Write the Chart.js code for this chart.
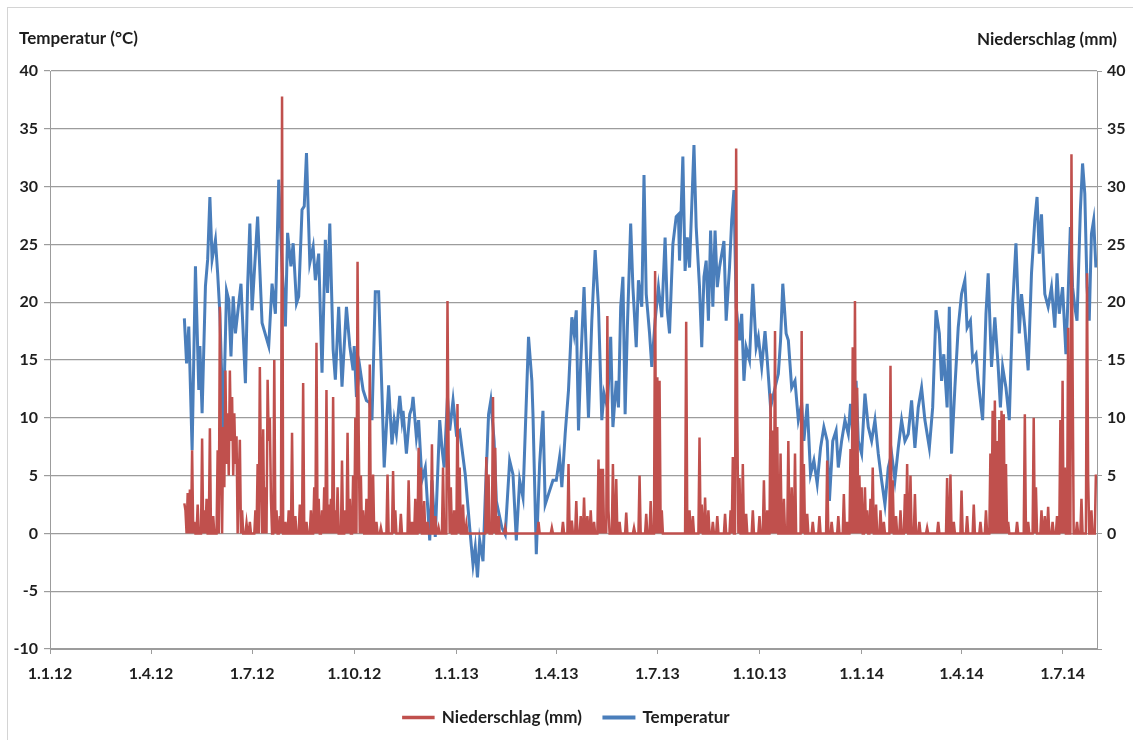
<!DOCTYPE html>
<html lang="de">
<head>
<meta charset="utf-8">
<title>Temperatur und Niederschlag</title>
<script src="https://cdn.jsdelivr.net/npm/chart.js@4.4.1/dist/chart.umd.min.js"></script>
<style>
  html, body { margin: 0; padding: 0; background: #fff; }
  #rahmen { position: absolute; left: 7px; top: 7px; width: 1130px; height: 740px; border-left: 1px solid #d4d4d4; border-top: 1px solid #d4d4d4; }
  #wrap { position: absolute; left: 0; top: 0; width: 1133px; height: 740px; }
</style>
</head>
<body>
<div id="rahmen"></div>
<div id="wrap"><canvas id="chart"></canvas></div>
<script>
// Tage gezaehlt ab 1.1.12 (Tag 0)
const quartalTage = [0, 91, 182, 274, 366, 456, 547, 639, 731, 821, 912];
const quartalLabels = ['1.1.12', '1.4.12', '1.7.12', '1.10.12', '1.1.13', '1.4.13', '1.7.13', '1.10.13', '1.1.14', '1.4.14', '1.7.14'];
const tagStart = 121;   // 1.5.12
const tagEnde = 942;    // 31.7.14

const tempTag = [
  121,123,125,128,131,134,135,137,140,142,144,146,149,151,153,156,159,161,163,165,167,172,176,178,180,182,187,191,197,200,
  203,206,209,212,214,217,219,222,224,227,229,231,234,237,239,242,245,248,250,252,255,257,260,263,265,267,270,273,274,276,
  279,282,285,288,290,293,296,299,301,305,308,310,312,315,317,318,321,324,326,327,330,332,335,338,342,344,347,351,353,355,
  358,360,363,366,369,374,378,381,383,385,387,390,392,395,397,400,402,407,410,414,417,420,423,426,431,434,435,438,441,444,
  446,449,453,456,459,461,464,467,470,472,474,476,478,481,485,488,491,494,497,499,502,505,507,510,512,514,516,518,520,523,
  525,528,530,533,535,537,540,542,545,548,551,554,556,558,561,564,566,567,570,572,574,576,580,582,585,587,589,591,593,595,
  597,599,601,603,607,609,612,614,616,618,621,623,625,627,630,633,636,638,641,644,646,649,653,656,658,660,663,665,668,671,
  674,677,679,682,685,688,691,694,697,700,702,705,708,710,713,716,719,721,723,726,728,731,734,737,740,743,746,749,752,755,
  758,761,764,767,770,773,776,779,782,785,788,792,795,798,801,803,805,808,810,812,815,818,821,824,826,829,831,834,836,840,
  843,845,848,851,854,856,858,861,864,867,870,873,875,878,881,884,887,889,891,893,896,899,902,905,907,909,912,915,917,919,
  921,923,925,928,930,932,934,936,938,940,942
];
const temperatur = [
  18.6,14.7,17.9,7.2,23.1,12.4,16.2,10.4,21.4,23.7,29.1,23.7,25.4,22.5,19.0,9.2,21.0,20.2,15.3,20.5,17.3,21.6,13.0,21.4,26.8,19.3,27.4,18.2,16.2,21.6,
  19.0,30.6,23.1,17.9,26.0,23.1,25.1,19.9,20.5,28.0,28.3,32.9,23.4,24.8,21.9,24.2,13.9,25.4,20.8,26.8,15.9,13.3,19.6,12.7,16.2,19.6,16.2,14.1,16.2,11.8,
  14.4,12.4,11.5,11.3,9.8,20.9,20.9,12.1,5.7,12.8,7.7,9.8,8.6,11.9,9.8,10.6,6.9,10.3,10.9,11.8,8.3,9.8,4.6,5.7,-0.6,4.6,-0.3,9.8,7.4,5.7,
  11.8,8.9,11.5,8.6,8.9,5.1,0.5,-2.7,-1.2,-3.8,-0.6,-2.4,3.1,10.3,11.5,8.0,2.8,0.5,-0.1,6.3,5.1,-0.6,4.6,3.1,17.0,13.2,10.3,-1.8,6.0,10.6,
  2.5,3.4,4.6,4.6,6.6,4.0,8.6,12.4,18.7,17.3,19.3,8.9,14.7,21.3,10.0,18.4,24.5,19.6,9.8,12.1,10.9,17.0,9.2,13.2,10.9,19.6,22.2,10.3,17.8,26.8,
  21.3,16.1,21.9,19.6,31.0,20.7,17.3,14.4,18.4,21.3,18.7,25.6,19.3,17.3,25.0,27.4,27.6,23.6,32.6,22.7,25.6,23.0,33.6,26.5,21.3,16.1,22.2,23.6,18.4,26.2,
  19.6,26.2,21.3,23.0,25.3,18.4,23.0,27.1,29.7,19.6,16.7,19.0,13.2,16.1,15.0,21.6,16.1,17.0,14.4,17.5,15.0,10.9,12.6,13.8,16.7,21.6,17.3,16.7,12.6,13.2,
  9.8,11.2,8.0,11.2,5.1,6.3,4.3,7.4,9.2,8.0,2.8,8.0,8.9,5.7,8.0,9.8,8.6,11.2,8.6,13.2,8.0,6.9,12.1,9.2,8.0,9.8,6.9,4.6,2.5,5.7,
  6.9,4.6,7.4,9.8,8.0,8.6,11.5,7.4,10.9,12.6,9.8,7.4,10.9,19.3,17.3,13.2,15.5,10.9,19.6,6.9,12.6,17.8,20.7,21.9,17.8,18.4,15.0,15.5,13.2,9.8,
  19.0,22.5,14.4,18.7,14.4,10.9,14.4,12.6,9.8,19.6,25.1,17.3,20.7,17.8,14.1,22.5,27.1,29.1,24.2,27.6,20.7,19.6,21.3,17.8,22.5,19.0,21.3,15.5,20.7,26.5,
  21.3,19.6,18.4,27.9,32.0,29.4,21.3,18.4,25.9,27.1,23.0
];

// Niederschlag (mm): Regentage und Mengen, uebrige Tage 0
const regenTag = [
  121,122,124,126,128,130,133,137,139,141,144,147,151,153,154,156,157,158,159,160,161,162,163,164,165,166,167,168,170,171,
  173,177,180,185,187,189,190,192,194,196,197,198,199,202,204,207,209,212,215,218,221,225,228,231,235,238,240,242,245,247,
  249,251,253,255,257,259,263,266,268,270,273,275,277,278,280,282,285,288,291,294,298,304,309,311,316,323,326,329,332,334,
  337,340,344,347,350,354,358,359,361,364,367,369,372,375,393,395,399,401,404,410,440,452,462,467,470,474,478,481,484,487,
  490,494,496,498,500,502,503,507,510,513,519,526,531,537,541,545,547,549,551,573,576,579,585,587,590,593,597,601,608,613,
  615,618,619,621,624,627,633,639,643,646,649,651,653,655,658,661,665,668,671,677,679,682,687,693,700,704,710,715,718,721,
  723,725,727,729,731,734,736,739,741,744,748,751,757,759,762,766,770,772,775,779,783,790,800,808,811,814,821,826,832,838,
  843,847,849,851,853,855,857,859,861,863,871,878,881,886,888,893,896,899,903,907,910,912,914,917,920,921,925,929,934,935,
  938,942
];
const regenMm = [
  2.6,2.0,3.5,3.8,7.2,1.0,2.5,8.2,2.0,3.0,9.1,1.5,7.2,19.6,6.0,9.2,4.0,14.1,6.0,10.4,5.0,14.1,8.0,11.8,5.0,10.4,6.0,8.4,4.6,8.1,
  2.0,0.9,1.0,2.0,6.0,14.4,5.0,9.0,4.0,13.3,8.0,10.0,3.0,15.0,2.0,1.5,37.8,1.0,2.0,8.7,1.5,2.5,13.0,1.0,2.0,4.0,16.5,3.0,2.0,4.0,
  12.4,2.5,3.0,11.8,2.0,4.0,6.3,2.0,8.7,3.0,5.0,10.0,23.5,9.0,5.0,2.0,3.0,14.6,5.1,1.0,0.5,5.1,5.4,2.0,1.7,4.6,1.0,3.0,7.4,5.7,
  2.8,1.0,7.7,1.5,0.5,5.7,20.1,6.9,4.0,2.0,11.2,5.7,2.5,0.8,6.6,5.1,11.8,7.4,1.5,0.5,1.0,0.5,1.0,6.0,1.1,2.8,1.5,3.1,1.5,2.0,
  1.0,6.4,5.6,5.6,1.0,18.8,2.0,6.0,4.7,1.0,1.8,0.5,5.0,1.7,2.8,22.7,13.5,13.2,2.0,18.3,2.0,1.5,8.3,2.5,3.1,2.0,1.0,1.5,1.7,2.0,
  6.6,33.3,9.8,4.8,6.0,1.7,2.0,1.5,4.6,2.0,12.1,8.9,17.5,9.2,6.9,3.0,8.0,4.0,6.9,17.5,6.0,1.7,1.0,1.5,6.3,1.0,1.5,3.4,1.0,7.3,
  16.1,20.1,12.6,5.0,4.0,4.0,2.0,3.0,5.7,2.5,2.0,1.0,14.5,4.6,1.5,2.0,3.4,6.0,5.0,3.4,1.0,0.5,1.0,4.8,5.1,1.0,3.7,1.5,2.5,1.0,
  2.0,6.9,10.6,11.5,8.0,9.8,10.6,10.3,6.0,1.0,1.0,10.3,1.0,10.0,4.0,2.0,1.5,2.3,1.0,1.5,9.8,13.2,5.7,17.8,32.8,14.4,1.0,3.0,22.5,5.0,
  2.0,5.1
];

const temperaturDaten = tempTag.map((t, i) => ({ x: t, y: temperatur[i] }));
const niederschlagDaten = [];
for (let t = tagStart; t <= tagEnde; t++) {
  const i = regenTag.indexOf(t);
  niederschlagDaten.push({ x: t, y: i >= 0 ? regenMm[i] : 0 });
}

const tickSchrift = { family: 'Lato', size: 16, weight: 'bold' };
const legendSchrift = { family: 'Lato', size: 17, weight: 'bold' };
const textFarbe = '#1e1e1e';
const gitterFarbe = '#9c9c9c';

const achsenTitel = {
  id: 'achsenTitel',
  afterDraw(chart) {
    const ctx = chart.ctx;
    ctx.save();
    ctx.font = 'bold 17px Lato';
    ctx.fillStyle = textFarbe;
    ctx.textBaseline = 'middle';
    ctx.textAlign = 'left';
    ctx.fillText('Temperatur (°C)', 19, 39);
    ctx.textAlign = 'right';
    ctx.fillText('Niederschlag (mm)', 1117, 40);
    ctx.restore();
  }
};

new Chart(document.getElementById('chart'), {
  type: 'line',
  data: {
    datasets: [
      {
        label: 'Niederschlag (mm)',
        data: niederschlagDaten,
        yAxisID: 'y1',
        borderColor: '#c0504d',
        backgroundColor: '#c0504d',
        borderWidth: 2.5,
        pointRadius: 0,
        tension: 0
      },
      {
        label: 'Temperatur',
        data: temperaturDaten,
        yAxisID: 'y',
        borderColor: '#4a7ebb',
        backgroundColor: '#4a7ebb',
        borderWidth: 3,
        pointRadius: 0,
        tension: 0
      }
    ]
  },
  options: {
    responsive: true,
    maintainAspectRatio: false,
    animation: false,
    layout: { padding: { top: 71, bottom: 4, left: 0, right: 0 } },
    plugins: {
      tooltip: { enabled: false },
      legend: {
        position: 'bottom',
        labels: {
          font: legendSchrift,
          color: textFarbe,
          boxWidth: 30,
          boxHeight: 1,
          padding: 22
        }
      }
    },
    scales: {
      x: {
        type: 'linear',
        min: 0,
        max: 943,
        afterBuildTicks: s => { s.ticks = quartalTage.map(v => ({ value: v })); },
        afterFit: s => { s.height = 38; },
        ticks: {
          autoSkip: false,
          maxRotation: 0,
          font: tickSchrift,
          color: textFarbe,
          padding: 10,
          callback: v => quartalLabels[quartalTage.indexOf(v)]
        },
        grid: { drawOnChartArea: false, tickLength: 5, color: gitterFarbe },
        border: { color: gitterFarbe }
      },
      y: {
        position: 'left',
        min: -10,
        max: 40,
        afterFit: s => { s.width = 50; },
        ticks: { stepSize: 5, font: tickSchrift, color: textFarbe, padding: 6 },
        grid: { color: gitterFarbe, lineWidth: 1.2, tickLength: 6 },
        border: { color: gitterFarbe }
      },
      y1: {
        position: 'right',
        min: -10,
        max: 40,
        afterFit: s => { s.width = 36; },
        ticks: {
          stepSize: 5, font: tickSchrift, color: textFarbe, padding: 5,
          callback: v => (v >= 0 ? v : '')
        },
        grid: { drawOnChartArea: false, tickLength: 5, color: gitterFarbe },
        border: { color: gitterFarbe }
      }
    }
  },
  plugins: [achsenTitel]
});
</script>
</body>
</html>
